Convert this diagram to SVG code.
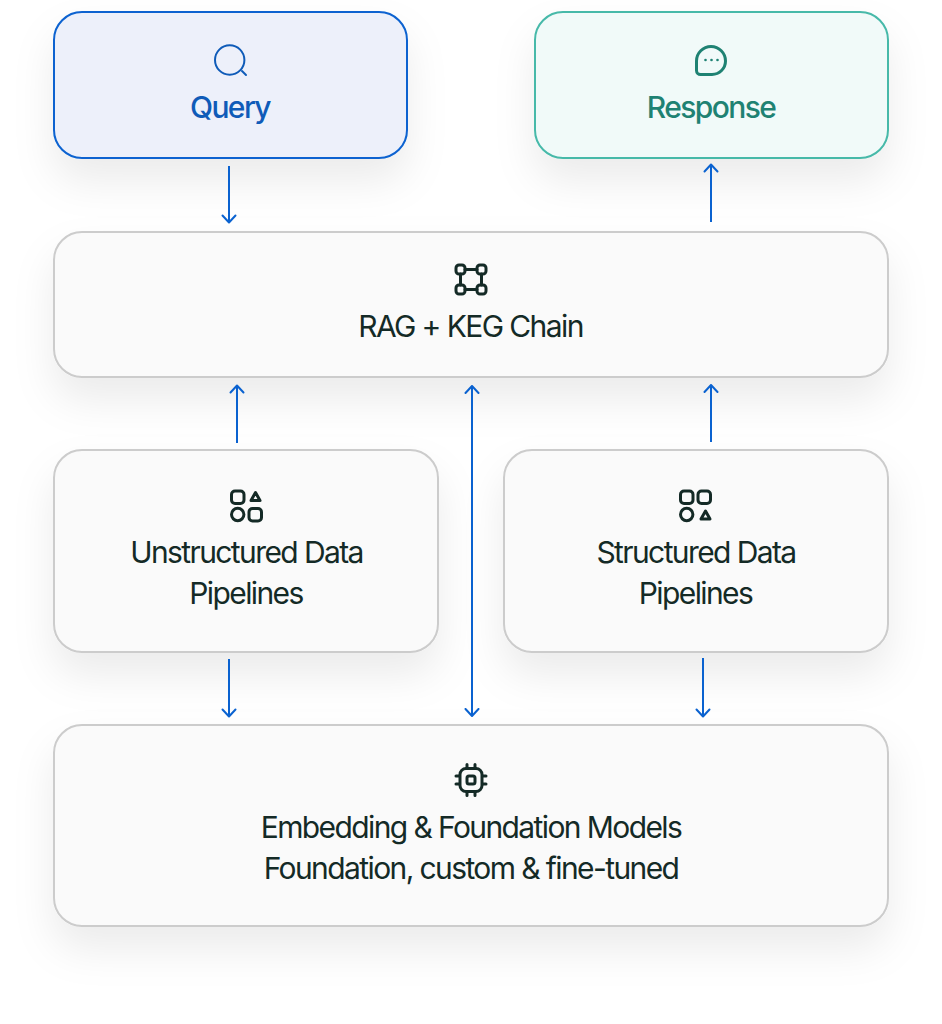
<svg xmlns="http://www.w3.org/2000/svg" width="942" height="1024" viewBox="0 0 942 1024">
<style>
.box{fill:#fafafa;stroke:#cccccc;stroke-width:2}
.t{font-family:Inter,"Liberation Sans",sans-serif;font-size:30px;letter-spacing:-1.6px;text-anchor:middle;fill:#142a26}
.i{fill:none;stroke:#142a26;stroke-width:3;stroke-linecap:round;stroke-linejoin:round}
.c{fill:none;stroke:#0a62d0;stroke-width:2}
.h{fill:none;stroke:#0a62d0;stroke-width:2;stroke-linecap:round;stroke-linejoin:round}
</style>
<defs>
<filter id="s" x="-20%" y="-40%" width="140%" height="200%"><feDropShadow dx="0" dy="22" stdDeviation="20" flood-color="#000" flood-opacity="0.08"/></filter>
<marker id="a" viewBox="0 0 10 16" refX="8.5" refY="8" markerWidth="10" markerHeight="16" markerUnits="userSpaceOnUse" orient="auto-start-reverse"><path class="h" d="M1.500 1.500L8.500 8L1.500 14.500"/></marker>
</defs>
<rect width="942" height="1024" fill="#ffffff"/>
<g id="query">
<rect x="54" y="12" width="353" height="146" rx="28" fill="#edf0fa" stroke="#0a62d0" stroke-width="2" filter="url(#s)"/>
<circle cx="229.700" cy="60" r="14.700" fill="none" stroke="#0f5bb8" stroke-width="2"/>
<path d="M242 71L246 75" fill="none" stroke="#0f5bb8" stroke-width="2" stroke-linecap="round"/>
<text class="t" x="230" y="117.500" style="fill:#0f5bb8;font-weight:500">Query</text>
</g>
<g id="response">
<rect x="535" y="12" width="353" height="146" rx="28" fill="#f1faf9" stroke="#47b9a9" stroke-width="2" filter="url(#s)"/>
<path d="M711 46.500a14.500 14.500 0 0 1 14.500 14.500a13.500 13.500 0 0 1 -13.500 13.500h-11.500a4 4 0 0 1 -4 -4v-9.500a14.500 14.500 0 0 1 14.500 -14.500z" fill="none" stroke="#1f8273" stroke-width="3"/>
<g fill="#1f8273"><circle cx="705.500" cy="60" r="1.300"/><circle cx="711.500" cy="60" r="1.300"/><circle cx="717.500" cy="60" r="1.300"/></g>
<text class="t" x="711" y="117.500" style="fill:#1f8273;font-weight:500">Response</text>
</g>
<g id="rag">
<rect class="box" x="54" y="232" width="834" height="145" rx="28" filter="url(#s)"/>
<g class="i"><rect x="456" y="265" width="9" height="9" rx="3"/><rect x="477" y="265" width="9" height="9" rx="3"/><rect x="456" y="285" width="9" height="9" rx="3"/><rect x="477" y="285" width="9" height="9" rx="3"/><path d="M465 269.500H477M465 289.500H477M460.500 274V285M481.500 274V285"/></g>
<text class="t" x="470.500" y="336.500">RAG + KEG Chain</text>
</g>
<g id="unstructured">
<rect class="box" x="54" y="450" width="384" height="202" rx="28" filter="url(#s)"/>
<g class="i"><rect x="231.500" y="491" width="12.500" height="12.500" rx="3.500"/><path d="M255.500 492.500L260 500.500H251Z"/><circle cx="237.700" cy="514.500" r="6.200"/><rect x="249" y="508.500" width="12.500" height="12.500" rx="3.500"/></g>
<text class="t" x="246.500" y="562.500">Unstructured Data</text>
<text class="t" x="246" y="604">Pipelines</text>
</g>
<g id="structured">
<rect class="box" x="504" y="450" width="384" height="202" rx="28" filter="url(#s)"/>
<g class="i"><rect x="680.500" y="491" width="12.500" height="12.500" rx="3.500"/><rect x="698" y="491" width="12.500" height="12.500" rx="3.500"/><circle cx="686.700" cy="514.500" r="6.200"/><path d="M705.500 511L710 519H701Z"/></g>
<text class="t" x="696" y="562.500">Structured Data</text>
<text class="t" x="695.500" y="604">Pipelines</text>
</g>
<g id="models">
<rect class="box" x="54" y="725" width="834" height="201" rx="28" filter="url(#s)"/>
<g class="i"><rect x="460" y="768.500" width="22" height="23" rx="6"/><rect x="467" y="776" width="8" height="8" rx="2"/><path d="M467 764.500V768M475 764.500V768M467 792V795.500M475 792V795.500M456 776H459.500M456 784H459.500M482.500 776H486M482.500 784H486"/></g>
<text class="t" x="471" y="837.500">Embedding &amp; Foundation Models</text>
<text class="t" x="471" y="878.500">Foundation, custom &amp; fine-tuned</text>
</g>
<g id="connectors">
<path class="c" d="M229 166V222.500" marker-end="url(#a)"/>
<path class="c" d="M711 222V164.500" marker-end="url(#a)"/>
<path class="c" d="M237 443V385.500" marker-end="url(#a)"/>
<path class="c" d="M711 442V385" marker-end="url(#a)"/>
<path class="c" d="M472 386V716" marker-start="url(#a)" marker-end="url(#a)"/>
<path class="c" d="M229 659V716.500" marker-end="url(#a)"/>
<path class="c" d="M703 658V716.500" marker-end="url(#a)"/>
</g>
</svg>
